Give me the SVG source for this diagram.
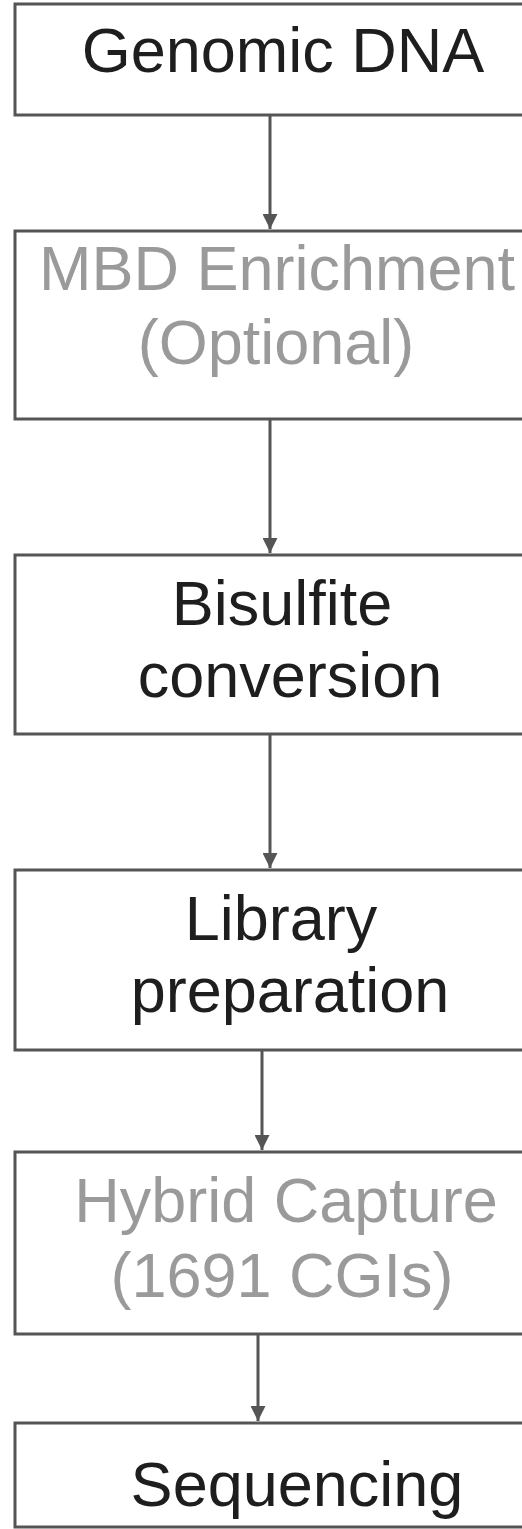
<svg xmlns="http://www.w3.org/2000/svg" width="522" height="1529" viewBox="0 0 522 1529">
<style>
.box{fill:#fff;stroke:#555;stroke-width:3}
.t{font-family:"Liberation Sans",Arial,sans-serif;font-size:63px;text-anchor:middle}
.dark{fill:#1e1e1e}
.light{fill:#9a9a9a}
.conn{stroke:#555;stroke-width:3;fill:none}
</style>
<defs>
<marker id="ah" viewBox="0 0 10 10" refX="10" refY="5" markerWidth="5" markerHeight="5" markerUnits="strokeWidth" orient="auto">
<path d="M0,0 L10,5 L0,10 Z" fill="#555"/>
</marker>
</defs>
<g id="connectors">
<line class="conn" x1="270" y1="115" x2="270" y2="229" marker-end="url(#ah)"/>
<line class="conn" x1="270" y1="419" x2="270" y2="553" marker-end="url(#ah)"/>
<line class="conn" x1="270" y1="734" x2="270" y2="868" marker-end="url(#ah)"/>
<line class="conn" x1="262" y1="1050" x2="262" y2="1150" marker-end="url(#ah)"/>
<line class="conn" x1="258" y1="1334" x2="258" y2="1421" marker-end="url(#ah)"/>
</g>
<g id="n1"><rect class="box" x="15" y="4" width="515" height="111"/><text class="t dark" x="283" y="72">Genomic DNA</text></g>
<g id="n2"><rect class="box" x="15" y="231" width="515" height="188"/><text class="t light" x="277" y="290">MBD Enrichment</text><text class="t light" x="276" y="364">(Optional)</text></g>
<g id="n3"><rect class="box" x="15" y="555" width="515" height="179"/><text class="t dark" x="282" y="625">Bisulfite</text><text class="t dark" x="290" y="697">conversion</text></g>
<g id="n4"><rect class="box" x="15" y="870" width="515" height="180"/><text class="t dark" x="281" y="940">Library</text><text class="t dark" x="290" y="1012">preparation</text></g>
<g id="n5"><rect class="box" x="15" y="1152" width="515" height="182"/><text class="t light" x="286" y="1222">Hybrid Capture</text><text class="t light" x="282" y="1297">(1691 CGIs)</text></g>
<g id="n6"><rect class="box" x="15" y="1423" width="515" height="104"/><text class="t dark" x="297" y="1506">Sequencing</text></g>
</svg>
